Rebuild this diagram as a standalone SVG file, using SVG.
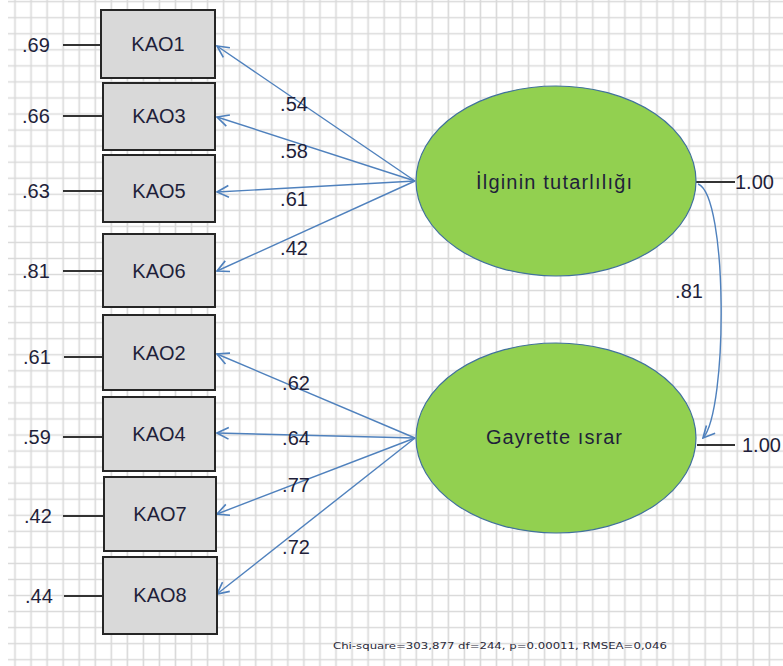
<svg xmlns="http://www.w3.org/2000/svg" width="783" height="666" viewBox="0 0 783 666">
<defs>
  <pattern id="grid" patternUnits="userSpaceOnUse" x="7" y="-6.35" width="16.05" height="16.05">
    <path d="M8 0 V16.05 M0 8 H16.05" stroke="#d9d9d9" stroke-width="1.6" fill="none"/>
  </pattern>
  <marker id="arr" markerUnits="userSpaceOnUse" markerWidth="14" markerHeight="14" viewBox="0 0 12 12" refX="11" refY="6" orient="auto">
    <path d="M1 1 L11 6 L1 11" fill="none" stroke="#4f81bd" stroke-width="1.4"/>
  </marker>
</defs>
<style>
  .box { fill: #d9d9d9; stroke: #262626; stroke-width: 2; }
  .lbl { font-family: "Liberation Sans", Arial, sans-serif; font-size: 20px; fill: #1f1f3a; }
  .mid { text-anchor: middle; }
  .err { stroke: #333; stroke-width: 2; }
  .lat { fill: #92d050; stroke: #41719c; stroke-width: 1.2; }
  .path { stroke: #4f81bd; stroke-width: 1.4; fill: none; marker-end: url(#arr); }
  .foot { font-family: "DejaVu Sans", Verdana, sans-serif; font-size: 9.5px; fill: #2a2a3a; }
</style>
<rect x="0" y="0" width="783" height="666" fill="#ffffff"/>
<rect x="8" y="0" width="775" height="666" fill="url(#grid)"/>

<g id="connectors">
  <path class="path" d="M415 181 L217 46"/>
  <path class="path" d="M415 181 L217 117"/>
  <path class="path" d="M415 181 L217 192"/>
  <path class="path" d="M415 181 L217 271"/>
  <path class="path" d="M415 438 L217 354"/>
  <path class="path" d="M415 438 L217 433"/>
  <path class="path" d="M415 438 L217 514"/>
  <path class="path" d="M415 438 L217 594"/>
  <path class="path" d="M698 184 C728 195 728 410 703 438"/>
  <line class="err" x1="63" y1="45" x2="101" y2="45"/>
  <line class="err" x1="63" y1="116" x2="103" y2="116"/>
  <line class="err" x1="63" y1="191" x2="103" y2="191"/>
  <line class="err" x1="63" y1="271" x2="103" y2="271"/>
  <line class="err" x1="64" y1="357" x2="103" y2="357"/>
  <line class="err" x1="63" y1="437" x2="103" y2="437"/>
  <line class="err" x1="63" y1="516" x2="103" y2="516"/>
  <line class="err" x1="64" y1="596" x2="103" y2="596"/>
  <line class="err" x1="696" y1="182" x2="735" y2="182"/>
  <line class="err" x1="697" y1="445" x2="735" y2="445"/>
  <text class="lbl mid" x="294" y="111">.54</text>
  <text class="lbl mid" x="294" y="158">.58</text>
  <text class="lbl mid" x="294" y="206">.61</text>
  <text class="lbl mid" x="294" y="255">.42</text>
  <text class="lbl mid" x="296" y="390">.62</text>
  <text class="lbl mid" x="296" y="445">.64</text>
  <text class="lbl mid" x="296" y="492">.77</text>
  <text class="lbl mid" x="296" y="554">.72</text>
  <text class="lbl mid" x="689" y="298">.81</text>
  <text class="lbl" x="735" y="189">1.00</text>
  <text class="lbl" x="742" y="452">1.00</text>
</g>

<g id="e-labels">
  <text class="lbl" x="22" y="52">.69</text>
  <text class="lbl" x="22" y="123">.66</text>
  <text class="lbl" x="22" y="198">.63</text>
  <text class="lbl" x="22" y="278">.81</text>
  <text class="lbl" x="23" y="364">.61</text>
  <text class="lbl" x="23" y="444">.59</text>
  <text class="lbl" x="24" y="523">.42</text>
  <text class="lbl" x="25" y="603">.44</text>
</g>

<g id="KAO1"><rect class="box" x="101" y="10" width="114" height="68"/><text class="lbl mid" x="158" y="51">KAO1</text></g>
<g id="KAO3"><rect class="box" x="103" y="83" width="112" height="67"/><text class="lbl mid" x="159" y="123">KAO3</text></g>
<g id="KAO5"><rect class="box" x="103" y="155" width="112" height="67"/><text class="lbl mid" x="159" y="198">KAO5</text></g>
<g id="KAO6"><rect class="box" x="103" y="234" width="112" height="73"/><text class="lbl mid" x="159" y="278">KAO6</text></g>
<g id="KAO2"><rect class="box" x="103" y="315" width="112" height="75"/><text class="lbl mid" x="159" y="360">KAO2</text></g>
<g id="KAO4"><rect class="box" x="103" y="397" width="112" height="74"/><text class="lbl mid" x="159" y="441">KAO4</text></g>
<g id="KAO7"><rect class="box" x="104" y="477" width="112" height="74"/><text class="lbl mid" x="160" y="521">KAO7</text></g>
<g id="KAO8"><rect class="box" x="103" y="557" width="114" height="77"/><text class="lbl mid" x="160" y="602">KAO8</text></g>

<g id="ilginin"><ellipse class="lat" cx="556" cy="181" rx="140" ry="95"/><text class="lbl mid" x="554" y="189" textLength="156" lengthAdjust="spacing">İlginin tutarlılığı</text></g>
<g id="gayrette"><ellipse class="lat" cx="556" cy="438" rx="140" ry="95"/><text class="lbl mid" x="554" y="444" textLength="136" lengthAdjust="spacing">Gayrette ısrar</text></g>

<text class="foot" x="333" y="649" textLength="334" lengthAdjust="spacingAndGlyphs">Chi-square=303,877  df=244, p=0.00011, RMSEA=0,046</text>
</svg>
